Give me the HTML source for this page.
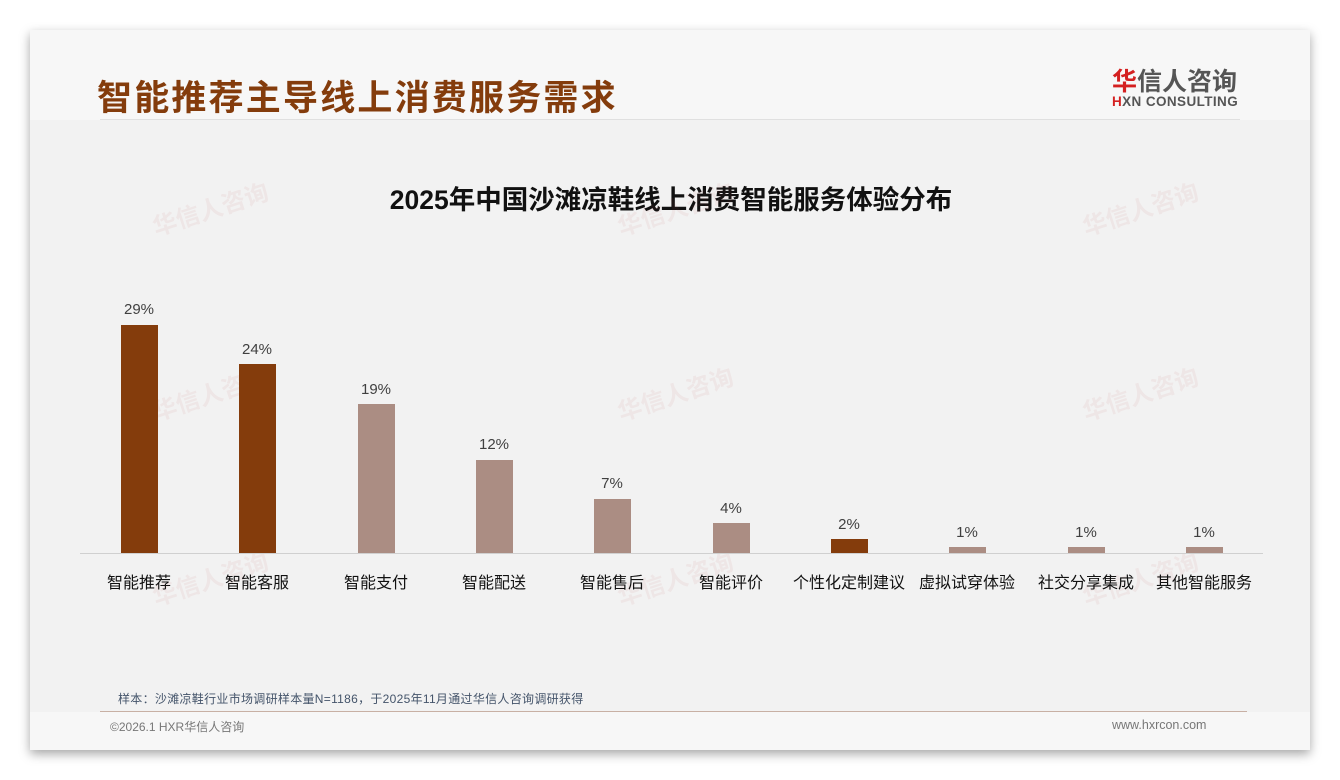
<!DOCTYPE html>
<html><head><meta charset="utf-8"><style>
*{margin:0;padding:0;box-sizing:border-box}
body{width:1340px;height:780px;background:#fff;position:relative;overflow:hidden;font-family:"Liberation Sans","Noto Sans CJK SC",sans-serif}
.card{position:absolute;left:30px;top:30px;width:1280px;height:720px;background:#f2f2f2;box-shadow:0 4px 10px rgba(0,0,0,.35)}
.hdr{position:absolute;left:0;top:0;width:1280px;height:90px;background:#f7f7f7}
.ftr{position:absolute;left:0;top:682px;width:1280px;height:38px;background:#f7f7f7}
.abs{position:absolute;white-space:nowrap}
.bar{position:absolute;width:37px}
.v{position:absolute;width:80px;text-align:center;font-size:15px;color:#404040}
.c{position:absolute;width:130px;text-align:center;font-size:16px;color:#111;top:569px}
.wm{position:absolute;color:rgba(200,80,80,.07);font-size:24px;font-weight:bold;transform:rotate(-18deg)}
</style></head><body>
<div class="card"><div class="hdr"></div><div class="ftr"></div></div>
<div class="abs" style="left:97px;top:70px;font-size:35px;font-weight:bold;color:#843c0c;letter-spacing:2.2px">智能推荐主导线上消费服务需求</div>
<div class="abs" style="left:100px;top:119px;width:1140px;height:1px;background:#e0e0e0"></div>
<div class="abs" style="left:1112px;top:62px;font-size:25px;font-weight:bold;color:#555"><span style="color:#d42020">华</span>信人咨询</div>
<div class="abs" style="left:1112px;top:94px;font-size:13.5px;font-weight:bold;color:#555;letter-spacing:0.4px"><span style="color:#d42020">H</span>XN CONSULTING</div>
<div class="abs" style="left:0;width:1342px;text-align:center;top:178px;font-size:26.5px;font-weight:bold;color:#111">2025年中国沙滩凉鞋线上消费智能服务体验分布</div>
<div class="wm" style="left:150px;top:190px">华信人咨询</div><div class="wm" style="left:615px;top:190px">华信人咨询</div><div class="wm" style="left:1080px;top:190px">华信人咨询</div>
<div class="wm" style="left:150px;top:375px">华信人咨询</div><div class="wm" style="left:615px;top:375px">华信人咨询</div><div class="wm" style="left:1080px;top:375px">华信人咨询</div>
<div class="wm" style="left:150px;top:560px">华信人咨询</div><div class="wm" style="left:615px;top:560px">华信人咨询</div><div class="wm" style="left:1080px;top:560px">华信人咨询</div>
<div class="abs" style="left:80px;top:553px;width:1183px;height:1px;background:#d0d0d0"></div>
<div class="bar" style="left:121px;top:325px;height:228px;background:#843c0c"></div><div class="v" style="left:99px;top:301px">29%</div><div class="c" style="left:74px">智能推荐</div>
<div class="bar" style="left:239px;top:364px;height:189px;background:#843c0c"></div><div class="v" style="left:217px;top:341px">24%</div><div class="c" style="left:192px">智能客服</div>
<div class="bar" style="left:358px;top:404px;height:149px;background:#ab8d83"></div><div class="v" style="left:336px;top:381px">19%</div><div class="c" style="left:311px">智能支付</div>
<div class="bar" style="left:476px;top:460px;height:93px;background:#ab8d83"></div><div class="v" style="left:454px;top:436px">12%</div><div class="c" style="left:429px">智能配送</div>
<div class="bar" style="left:594px;top:499px;height:54px;background:#ab8d83"></div><div class="v" style="left:572px;top:475px">7%</div><div class="c" style="left:547px">智能售后</div>
<div class="bar" style="left:713px;top:523px;height:30px;background:#ab8d83"></div><div class="v" style="left:691px;top:500px">4%</div><div class="c" style="left:666px">智能评价</div>
<div class="bar" style="left:831px;top:539px;height:14px;background:#843c0c"></div><div class="v" style="left:809px;top:516px">2%</div><div class="c" style="left:784px">个性化定制建议</div>
<div class="bar" style="left:949px;top:547px;height:6px;background:#ab8d83"></div><div class="v" style="left:927px;top:524px">1%</div><div class="c" style="left:902px">虚拟试穿体验</div>
<div class="bar" style="left:1068px;top:547px;height:6px;background:#ab8d83"></div><div class="v" style="left:1046px;top:524px">1%</div><div class="c" style="left:1021px">社交分享集成</div>
<div class="bar" style="left:1186px;top:547px;height:6px;background:#ab8d83"></div><div class="v" style="left:1164px;top:524px">1%</div><div class="c" style="left:1139px">其他智能服务</div>
<div class="abs" style="left:118px;top:690px;font-size:12px;color:#44546a;letter-spacing:0.3px">样本：沙滩凉鞋行业市场调研样本量N=1186，于2025年11月通过华信人咨询调研获得</div>
<div class="abs" style="left:100px;top:711px;width:1147px;height:1px;background:#c8b0a4"></div>
<div class="abs" style="left:110px;top:718px;font-size:12px;color:#777">©2026.1 HXR华信人咨询</div>
<div class="abs" style="left:1112px;top:718px;font-size:12.5px;color:#777">www.hxrcon.com</div>
</body></html>
